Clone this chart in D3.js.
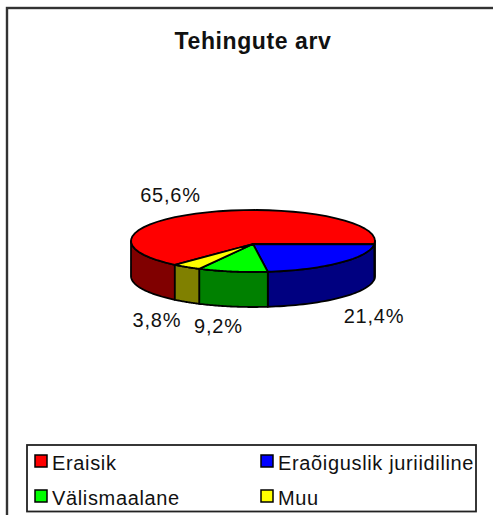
<!DOCTYPE html>
<html><head><meta charset="utf-8">
<script src="https://cdn.jsdelivr.net/npm/d3@7"></script>
<style>html,body{margin:0;padding:0;background:#fff}svg{display:block}
text{font-family:"Liberation Sans",Arial,sans-serif;fill:#111}</style></head>
<body><svg id="c" width="493" height="515"></svg>
<script>
const categories = ["Eraisik","Eraõiguslik juriidiline","Välismaalane","Muu"];
const values = [65.6,21.4,9.2,3.8];
const labels = ["65,6%","21,4%","9,2%","3,8%"];
const topColors = ["#ff0000","#0000ff","#00ff00","#ffff00"];
const sideColors = ["#800000","#000080","#008000","#808000"];
const labelPos = [[170.5,202],[374,323],[218.5,333],[157,327]];
const legendPos = [[35,470],[261,470],[35,505],[261,505]];

const svg = d3.select("#c");
svg.append("rect").attr("x",7).attr("y",8).attr("width",500).attr("height",520)
  .attr("fill","#fff").attr("stroke","#333").attr("stroke-width",2.4);
svg.append("text").attr("x",253).attr("y",49).attr("text-anchor","middle")
  .attr("font-size",23).attr("font-weight","bold").attr("letter-spacing",0.6).attr("fill","#000").text("Tehingute arv");

const cx=253, cy=241, rx=122, ry=31, depth=35, apexY=244;
const deg=Math.PI/180, tau=2*Math.PI;
const startA = (96-236.16)*deg;
const pie = d3.pie().sort(null).startAngle(startA).endAngle(startA+tau)(values);
const pt=(a,dy=0)=>[cx+rx*Math.sin(a), cy-ry*Math.cos(a)+dy];
const arcPts=(a0,a1,dy)=>d3.range(0,41).map(i=>pt(a0+(a1-a0)*i/40,dy));
const line=d3.line();
const style=s=>s.attr("stroke","#000").attr("stroke-width",1.8).attr("stroke-linejoin","round");

// Walls: only the front half is visible
const walls=[];
pie.forEach((d,i)=>{
  for(const k of [-1,0,1]){
    const a0=Math.max(d.startAngle+k*tau,90*deg), a1=Math.min(d.endAngle+k*tau,270*deg);
    if(a1>a0) walls.push({i,a0,a1});
  }
});
walls.forEach(w=>{
  const p=[...arcPts(w.a0,w.a1,0),...arcPts(w.a1,w.a0,depth)];
  style(svg.append("path")).attr("d",line(p)+"Z").attr("fill",sideColors[w.i]);
});
// Top face
pie.forEach((d,i)=>{
  const p=[[cx,apexY],...arcPts(d.startAngle,d.endAngle,0)];
  style(svg.append("path")).attr("d",line(p)+"Z").attr("fill",topColors[i]);
});
// Value labels
labels.forEach((t,i)=>svg.append("text").attr("x",labelPos[i][0]).attr("y",labelPos[i][1])
  .attr("text-anchor","middle").attr("font-size",20).attr("letter-spacing",0.8).text(t));

// Legend
svg.append("rect").attr("x",27).attr("y",445).attr("width",449).attr("height",66.5)
  .attr("fill","#fff").attr("stroke","#222").attr("stroke-width",1.8);
categories.forEach((c,i)=>{
  const [x,y]=legendPos[i];
  svg.append("rect").attr("x",x).attr("y",y-15).attr("width",12).attr("height",12)
    .attr("fill",topColors[i]).attr("stroke","#000").attr("stroke-width",1.5);
  svg.append("text").attr("x",x+17).attr("y",y).attr("font-size",20).attr("letter-spacing",0.65).text(c);
});
</script></body></html>
